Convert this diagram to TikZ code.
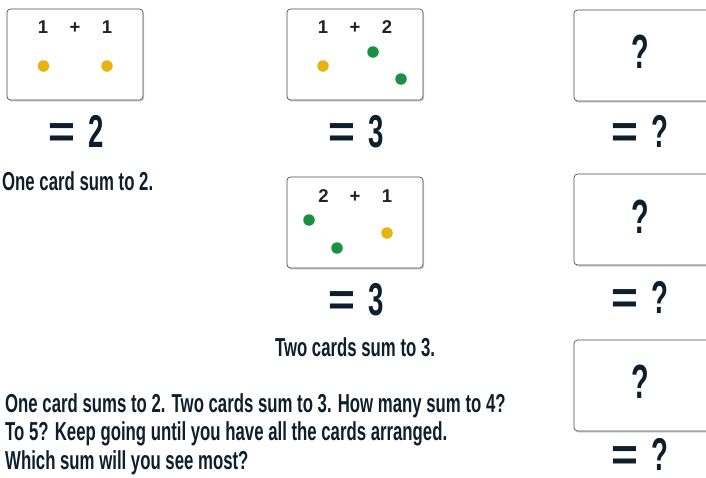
\documentclass[tikz,border=0pt]{standalone}
\usepackage{fontspec}
\setmainfont{Liberation Sans}
\newfontfamily\condfont[FakeStretch=0.645]{Liberation Sans}
\newfontfamily\sumfont[FakeStretch=0.6]{Liberation Sans}
\usetikzlibrary{shadows}
\definecolor{ink}{HTML}{0E1E2C}
\definecolor{numink}{HTML}{222222}
\definecolor{dotyellow}{HTML}{E8B410}
\definecolor{dotgreen}{HTML}{1B8F44}
\newcommand{\eqto}[1]{{\rmfamily =}\hspace{13pt}#1}

\begin{document}
\begin{tikzpicture}[x=1pt, y=-1pt,
  card/.style={draw=black!70, fill=white, rounded corners=3.5pt, line width=0.7pt,
    minimum width=136pt, minimum height=91pt, inner sep=0pt,
    drop shadow={shadow xshift=1.2pt, shadow yshift=-1.6pt, opacity=0.18, fill=black}},
  dot/.style={circle, inner sep=0pt, minimum size=11.5pt},
  yel/.style={dot, fill=dotyellow},
  grn/.style={dot, fill=dotgreen},
  num/.style={anchor=base, inner sep=0pt, text=numink, font=\bfseries\fontsize{18.5}{18.5}\selectfont},
  sum/.style={anchor=base, inner sep=0pt, text=ink, font=\sumfont\bfseries\fontsize{46}{46}\selectfont},
  ask/.style={anchor=base, inner sep=0pt, text=ink, font=\sumfont\bfseries\fontsize{48}{48}\selectfont},
  note/.style={inner sep=0pt, text=ink, align=left, font=\condfont\bfseries\fontsize{26}{28.5}\selectfont}]
  \useasboundingbox (0,0) rectangle (706,477);
  \clip (0,0) rectangle (706,477);
  \node[card] (c1) at (75,54.5) {};
  \node[num] (c1a) at (43,33) {1};
  \node[num] (c1op) at (75,33) {+};
  \node[num] (c1b) at (107,33) {1};
  \node[yel] (c1d1) at (43.5,66) {};
  \node[yel] (c1d2) at (107,66) {};
  \node[sum] (s1) at (76,147) {\eqto{2}};
  \node[note, anchor=base west] (t1) at (2,190) {One card sum to 2.};
  \node[card] (c2) at (355,54.5) {};
  \node[num] (c2a) at (323,33) {1};
  \node[num] (c2op) at (355,33) {+};
  \node[num] (c2b) at (387,33) {2};
  \node[yel] (c2d1) at (323,66) {};
  \node[grn] (c2d2) at (373,52) {};
  \node[grn] (c2d3) at (401,79) {};
  \node[sum] (s2) at (356,147) {\eqto{3}};
  \node[card] (c3) at (355,222.5) {};
  \node[num] (c3a) at (323.5,202) {2};
  \node[num] (c3op) at (355,202) {+};
  \node[num] (c3b) at (387,202) {1};
  \node[grn] (c3d1) at (309,220) {};
  \node[grn] (c3d2) at (337,248) {};
  \node[yel] (c3d3) at (387,233) {};
  \node[sum] (s3) at (356,315) {\eqto{3}};
  \node[note, anchor=base] (t2) at (355,356) {Two cards sum to 3.};
  \node[card] (q1) at (642,55.5) {};
  \node[card] (q2) at (642,219.5) {};
  \node[card] (q3) at (642,385.5) {};
  \node[ask] (q1a) at (640,68) {?};
  \node[ask] (q2a) at (640,233) {?};
  \node[ask] (q3a) at (640,398) {?};
  \node[sum] (s4) at (640,147) {\eqto{?}};
  \node[sum] (s5) at (640,313) {\eqto{?}};
  \node[sum] (s6) at (640,470) {\eqto{?}};
  \node[note, anchor=base west] (t3) at (5,469)
    {One card sums to 2. Two cards sum to 3. How many sum to 4?\\
     To 5? Keep going until you have all the cards arranged.\\
     Which sum will you see most?};
\end{tikzpicture}
\end{document}
